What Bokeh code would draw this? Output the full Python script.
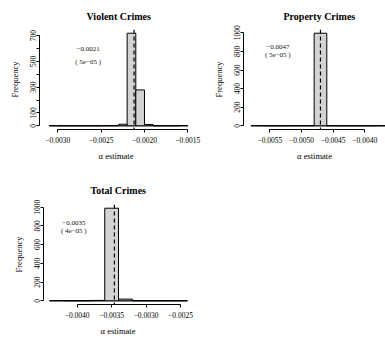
from bokeh.plotting import figure
from bokeh.layouts import column, row
from bokeh.models import Range1d, FixedTicker, Span
from bokeh.core.properties import value
from bokeh.embed import file_html
from bokeh.resources import INLINE

# ---------------- data ----------------
violent_breaks = [-0.0031, -0.0030, -0.0029, -0.0028, -0.0027, -0.0026, -0.0025, -0.0024, -0.0023,
                  -0.0022, -0.0021, -0.0020, -0.0019, -0.0018, -0.0017, -0.0016, -0.0015]
violent_counts = [2, 0, 0, 0, 0, 0, 1, 1, 12, 718, 278, 10, 0, 0, 0, 2]
violent_mean = -0.00212
violent_text = ["\u22120.0021", "( 5e\u221205 )"]
violent_xticks = [-0.0030, -0.0025, -0.0020, -0.0015]
violent_xlabels = ["\u22120.0030", "\u22120.0025", "\u22120.0020", "\u22120.0015"]
violent_yticks = [0, 100, 200, 300, 400, 500, 600, 700]
violent_ylabels = ["0", "100", "", "300", "", "500", "", "700"]

property_breaks = [-0.0058, -0.0056, -0.0054, -0.0052, -0.0050, -0.0048, -0.0046, -0.0044,
                   -0.0042, -0.0040, -0.0038, -0.0036]
property_counts = [2, 0, 0, 1, 1, 996, 1, 0, 0, 0, 2]
property_mean = -0.00470
property_text = ["\u22120.0047", "( 5e\u221205 )"]
property_xticks = [-0.0055, -0.0050, -0.0045, -0.0040]
property_xlabels = ["\u22120.0055", "\u22120.0050", "\u22120.0045", "\u22120.0040"]
property_yticks = [0, 200, 400, 600, 800, 1000]
property_ylabels = ["0", "200", "400", "600", "800", "1000"]

total_breaks = [-0.0044, -0.0042, -0.0040, -0.0038, -0.0036, -0.0034, -0.0032, -0.0030,
                -0.0028, -0.0026, -0.0024]
total_counts = [2, 0, 0, 4, 990, 18, 0, 0, 0, 1]
total_mean = -0.00346
total_text = ["\u22120.0035", "( 4e\u221205 )"]
total_xticks = [-0.0040, -0.0035, -0.0030, -0.0025]
total_xlabels = ["\u22120.0040", "\u22120.0035", "\u22120.0030", "\u22120.0025"]
total_yticks = [0, 200, 400, 600, 800, 1000]
total_ylabels = ["0", "200", "400", "600", "800", "1000"]

SERIF = "Liberation Serif"


def panel(title, breaks, counts, mean, texts, text_pos, xticks, xlabels, yticks, ylabels,
          xr, width, height, borders, title_offset, title_standoff):
    ymax = max(counts)
    y0, y1 = -0.04 * ymax, 1.04 * ymax
    p = figure(width=width, height=height, x_range=Range1d(*xr), y_range=Range1d(y0, y1),
               output_backend="svg", toolbar_location=None,
               min_border_left=borders[0], min_border_right=borders[1],
               min_border_top=borders[2], min_border_bottom=borders[3])
    p.xgrid.visible = False
    p.ygrid.visible = False
    p.outline_line_color = None
    p.background_fill_color = "white"
    p.border_fill_color = "white"

    p.title.text = title
    p.title.text_font = SERIF
    p.title.text_font_style = "bold"
    p.title.text_font_size = "10px"
    p.title.text_color = "black"
    p.title.align = "left"
    p.title.offset = title_offset
    p.title.standoff = title_standoff

    # histogram
    p.segment(x0=breaks[0], y0=0, x1=breaks[-1], y1=0, line_color="black", line_width=1)
    p.quad(left=breaks[:-1], right=breaks[1:], top=counts, bottom=[0] * len(counts),
           fill_color="#d3d3d3", line_color="black", line_width=1)
    p.add_layout(Span(location=mean, dimension="height", line_color="black",
                      line_dash="4 3", line_width=1.2))
    p.text(x=[text_pos[0], text_pos[0]], y=[text_pos[1], text_pos[2]], text=texts,
           text_font=value(SERIF), text_font_size=value("7px"), text_color="#111111",
           text_align="center", text_baseline="middle")

    for ax in (p.xaxis[0], p.yaxis[0]):
        ax.major_tick_in = 0
        ax.major_tick_out = 3
        ax.minor_tick_in = 0
        ax.minor_tick_out = 0
        ax.axis_line_color = "black"
        ax.major_tick_line_color = "black"
        ax.major_label_text_font = SERIF
        ax.major_label_text_font_size = "7.5px"
        ax.major_label_text_color = "black"
        ax.axis_label_text_font = SERIF
        ax.axis_label_text_font_size = "8.5px"
        ax.axis_label_text_font_style = "normal"
        ax.axis_label_text_color = "black"

    xa = p.xaxis[0]
    xa.ticker = FixedTicker(ticks=xticks)
    xa.major_label_overrides = {t: l for t, l in zip(xticks, xlabels)}
    xa.bounds = (xticks[0], xticks[-1])
    xa.axis_label = "\u03b1 estimate"
    xa.major_label_standoff = 4
    xa.axis_label_standoff = 5

    ya = p.yaxis[0]
    ya.ticker = FixedTicker(ticks=yticks)
    ya.major_label_overrides = {t: l for t, l in zip(yticks, ylabels)}
    ya.bounds = (yticks[0], yticks[-1])
    ya.axis_label = "Frequency"
    ya.major_label_orientation = "vertical"
    ya.major_label_standoff = 0
    ya.axis_label_standoff = 8
    return p


p1 = panel("Violent Crimes", violent_breaks, violent_counts, violent_mean, violent_text,
           (-0.00265, 597, 495), violent_xticks, violent_xlabels, violent_yticks, violent_ylabels,
           (-0.003211, -0.001446), 205, 170, (39, 13, 29, 41), 47, 15)
p2 = panel("Property Crimes", property_breaks, property_counts, property_mean, property_text,
           (-0.005375, 846, 762), property_xticks, property_xlabels, property_yticks, property_ylabels,
           (-0.005918, -0.003671), 180, 170, (38, 0, 29, 41), 40, 15)
p3 = panel("Total Crimes", total_breaks, total_counts, total_mean, total_text,
           (-0.004049, 828, 750), total_xticks, total_xlabels, total_yticks, total_ylabels,
           (-0.004489, -0.002326), 205, 171, (43, 13, 34, 37), 47, 17)

layout = column(row(p1, p2), p3)
open("out.html", "w").write(file_html(layout, INLINE))
